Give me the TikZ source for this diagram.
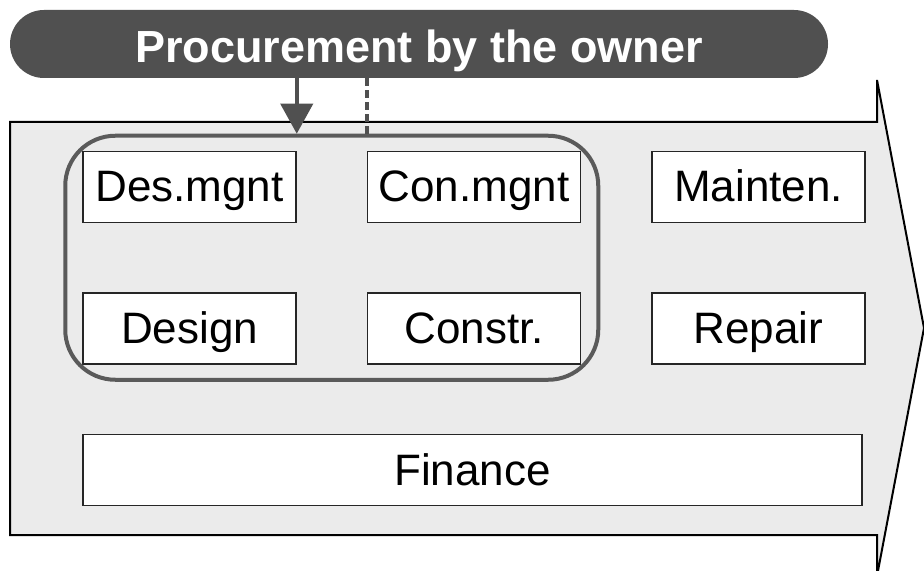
\documentclass[tikz,border=0pt]{standalone}
\usepackage{fontspec}
\setmainfont{Liberation Sans}
\usetikzlibrary{positioning, fit, arrows.meta}
\definecolor{bannergray}{HTML}{505050}
\definecolor{flowgray}{HTML}{EBEBEB}
\definecolor{loopgray}{HTML}{5A5A5A}
\begin{document}
\begin{tikzpicture}[x=0.5pt,y=-0.5pt]

        % Define block styles
        \tikzstyle{banner} = [rectangle, fill=bannergray, text=white, font=\fontsize{22.5}{26}\selectfont\bfseries, text height=19pt, text depth=0pt, minimum width=409pt, minimum height=34pt, rounded corners=17pt, inner sep=0pt]
        \tikzstyle{task} = [rectangle, draw=black!85, line width=0.75pt, fill=white, font=\fontsize{22}{26}\selectfont, text height=17pt, text depth=2pt, minimum width=106.5pt, minimum height=35.5pt, inner sep=0pt]
        \tikzstyle{group} = [rectangle, draw=loopgray, line width=2pt, rounded corners=25pt, inner xsep=8.5pt, inner ysep=7.5pt]
        \tikzstyle{arrow} = [line width=2pt, draw=bannergray, fill=bannergray, -{Triangle[width=16pt,length=15pt]}]

        \useasboundingbox (0,0) rectangle (924,571);

        % Flow arrow
        \draw[fill=flowgray, line width=1pt] (10,122) -- (877,122) -- (877,80) -- (924,328) -- (877,576) -- (877,535) -- (10,535) -- cycle;

        % Components
        \node (owner) [banner] at (419,44) {Procurement by the owner};
        \node (desmgnt) [task] at (189.5,187) {Des.mgnt};
        \node (design) [task, below=34.5pt of desmgnt] {Design};
        \node (conmgnt) [task, right=35pt of desmgnt] {Con.mgnt};
        \node (constr) [task, below=34.5pt of conmgnt] {Constr.};
        \node (mainten) [task, right=35pt of conmgnt] {Mainten.};
        \node (repair) [task, below=34.5pt of mainten] {Repair};
        \node (finance) [task, minimum width=389.5pt] at (472.5,470) {Finance};
        \node (grp) [group, fit=(desmgnt) (constr)] {};

        % Arrows
        \draw [arrow] (owner.south -| desmgnt.east) -- (grp.north -| desmgnt.east);
        \draw [line width=2pt, draw=bannergray, dash pattern=on 4pt off 2pt] (owner.south -| conmgnt.west) -- (grp.north -| conmgnt.west);

      \end{tikzpicture}
\end{document}
